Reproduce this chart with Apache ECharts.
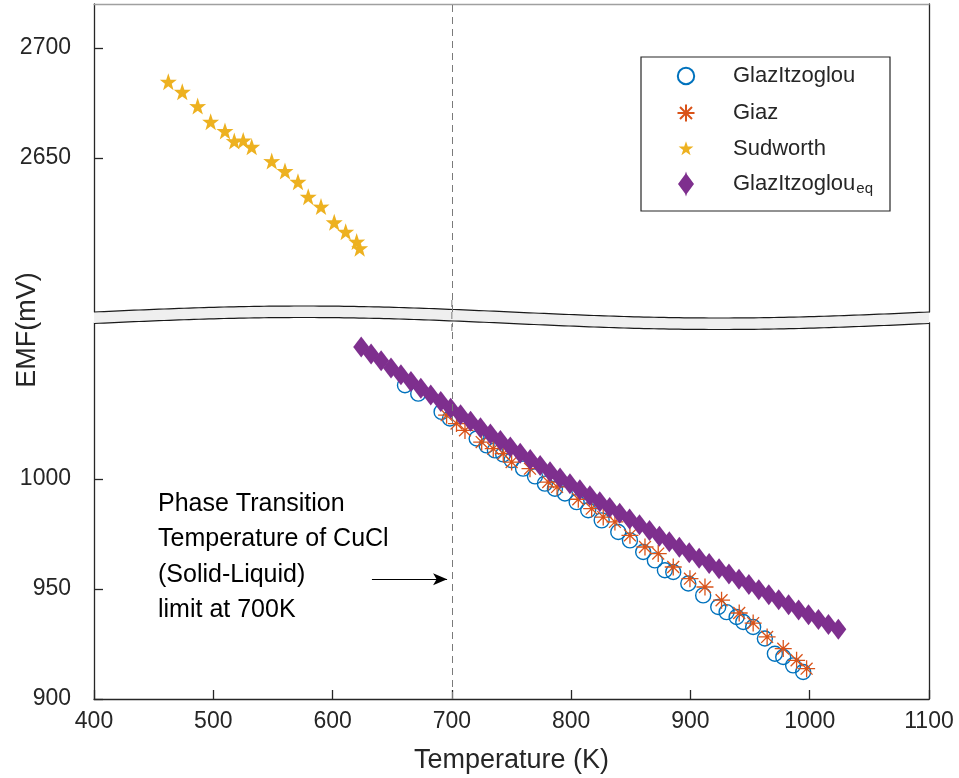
<!DOCTYPE html>
<html>
<head>
<meta charset="utf-8">
<script src="https://cdn.jsdelivr.net/npm/echarts@6/dist/echarts.min.js"></script>
<style>
  html, body { margin: 0; padding: 0; background: #fff; }
  #chart { width: 959px; height: 778px; }
</style>
</head>
<body>
<div id="chart"></div>
<script>
// ---------------- data ----------------
const xTicks = [400, 500, 600, 700, 800, 900, 1000, 1100];
const yTicksTop = [2650, 2700];
const yTicksBottom = [900, 950, 1000];

const sudworthT = [462.3, 474.0, 486.9, 497.8, 509.8, 517.6, 525.1, 532.2, 549.0, 560.1, 571.0, 579.6, 590.3, 601.4, 611.0, 620.2, 622.7];
const sudworthE = [2684.7, 2680.1, 2673.6, 2666.5, 2662.3, 2657.7, 2658.0, 2655.1, 2648.6, 2644.1, 2639.2, 2632.4, 2627.9, 2620.8, 2616.5, 2612.0, 2609.0];

const glazT = [660.7, 671.8, 691.4, 698.4, 720.8, 729.1, 736.1, 743.0, 750.1, 759.7, 769.7, 778.0, 786.4, 794.8, 804.6, 814.3, 825.6, 839.5, 849.3, 860.4, 870.2, 878.6, 885.6, 898.2, 910.7, 923.3, 930.3, 938.7, 944.3, 952.6, 962.4, 970.8, 977.8, 986.1, 994.5];
const glazE = [1042.6, 1038.8, 1030.5, 1027.5, 1018.4, 1015.3, 1013.0, 1011.2, 1008.5, 1004.7, 1001.2, 997.9, 995.6, 993.4, 989.5, 985.8, 981.2, 975.9, 972.1, 966.8, 963.0, 958.5, 957.7, 952.5, 947.1, 941.8, 939.5, 937.3, 935.0, 932.7, 927.5, 920.6, 919.1, 915.3, 912.3];

const giazT = [695.6, 703.9, 711.0, 725.0, 734.7, 743.1, 750.1, 765.5, 780.8, 788.2, 806.0, 817.2, 826.9, 836.7, 849.3, 861.9, 873.0, 885.6, 899.6, 912.2, 926.1, 940.9, 952.6, 964.3, 977.8, 989.0, 997.4];
const giazE = [1029.0, 1025.2, 1022.1, 1016.8, 1013.8, 1011.5, 1007.7, 1004.7, 998.6, 996.4, 990.8, 986.5, 982.7, 980.5, 974.4, 969.1, 966.1, 960.0, 954.7, 950.9, 944.9, 939.1, 934.5, 928.2, 922.9, 917.6, 913.8];

const eqT = [624.0, 632.3, 640.7, 649.0, 657.3, 665.7, 674.0, 682.3, 690.7, 699.0, 707.3, 715.7, 724.0, 732.3, 740.7, 749.0, 757.3, 765.7, 774.0, 782.3, 790.7, 799.0, 807.3, 815.7, 824.0, 832.3, 840.7, 849.0, 857.3, 865.7, 874.0, 882.3, 890.7, 899.0, 907.3, 915.7, 924.0, 932.3, 940.7, 949.0, 957.3, 965.7, 974.0, 982.3, 990.7, 999.0, 1007.3, 1015.7, 1024.0];
const eqE = [1060.0, 1056.8, 1053.7, 1050.5, 1047.4, 1044.3, 1041.3, 1038.2, 1035.2, 1032.2, 1029.2, 1026.2, 1023.3, 1020.4, 1017.5, 1014.6, 1011.7, 1008.9, 1006.1, 1003.3, 1000.5, 997.8, 995.1, 992.4, 989.7, 987.0, 984.4, 981.8, 979.2, 976.6, 974.0, 971.5, 969.0, 966.5, 964.0, 961.6, 959.2, 956.8, 954.4, 952.0, 949.7, 947.4, 945.1, 942.8, 940.5, 938.3, 936.1, 933.9, 931.7];

const transitionT = 700;
const arrowFrom = [633, 954.4];
const arrowTo = [696, 954.4];
const annotationLines = ['Phase Transition', 'Temperature of CuCl', '(Solid-Liquid)', 'limit at 700K'];
const seriesNames = ['GlazItzoglou', 'Giaz', 'Sudworth', 'GlazItzoglou_eq'];

// ---------------- layout ----------------
const FONT = '"Liberation Sans", Arial, Helvetica, sans-serif';
const TXT = '#262626';
const LEFT = 94, RIGHT_X = 929;
const TOP_TOP = 4, TOP_H = 308;             // 2580..2720
const BOT_H = 376.2, BOT_TOP = 699 - 376.2;  // 900..1071

const zip = (a, b) => a.map((v, i) => [v, b[i]]);
const plain = v => String(v);

const STAR = 'path://M50,0L61.8,35.1L97.6,34.5L69.1,56.7L79.4,90.5L50,70L20.6,90.5L30.9,56.7L2.4,34.5L38.2,35.1Z';
const ASTER = 'path://M10,0L10,20M0,10L20,10M3,3L17,17M3,17L17,3';
const DIAM = 'path://M7.5,0L15,9.5L7.5,19L0,9.5Z';

// legend icons padded to a fixed box so they keep their own size
const PAD = 'M-17,-17M17,17';
const ICON_CIRCLE = 'path://' + PAD + 'M8.2,0A8.2,8.2,0,1,1,-8.2,0A8.2,8.2,0,1,1,8.2,0Z';
const ICON_ASTER = 'path://' + PAD + 'M0,-8.5L0,8.5M-8.5,0L8.5,0M-6,-6L6,6M-6,6L6,-6';
const ICON_STAR = 'path://' + PAD + 'M0,-7.8L1.8,-2.5L7.4,-2.5L2.9,0.9L4.6,6.3L0,3L-4.6,6.3L-2.9,0.9L-7.4,-2.5L-1.8,-2.5Z';
const ICON_DIAM = 'path://' + PAD + 'M0,-12.5L1,-9.5L8,0L1,9.5L0,12.5L-1,9.5L-8,0L-1,-9.5Z';

// wavy break band (decoration)
function wave(x) { return 312 - 6 * Math.sin(2 * Math.PI * (x - LEFT) / (RIGHT_X - LEFT)); }
const bandTop = [], bandBot = [];
for (let x = LEFT; x <= RIGHT_X + 0.01; x += 5) {
  bandTop.push([x, wave(x)]);
  bandBot.push([x, wave(x) + 11.5]);
}
const bandPoly = bandTop.concat(bandBot.slice().reverse());

const dashStyle = { color: '#7a7a7a', width: 1, type: [7, 5] };

const chart = echarts.init(document.getElementById('chart'), null, { renderer: 'canvas' });

const axisLineDark = { show: true, lineStyle: { color: TXT, width: 1.3 } };

const option = {
  animation: false,
  backgroundColor: '#fff',
  textStyle: { fontFamily: FONT, color: TXT },
  grid: [
    { left: LEFT, right: 959 - RIGHT_X, top: TOP_TOP, height: TOP_H },
    { left: LEFT, right: 959 - RIGHT_X, top: BOT_TOP, height: BOT_H }
  ],
  xAxis: [
    { gridIndex: 0, type: 'value', min: 400, max: 1100, position: 'top',
      axisLine: { show: true, lineStyle: { color: '#a0a0a0', width: 1.3 } },
      axisTick: { show: false }, axisLabel: { show: false }, splitLine: { show: false } },
    { gridIndex: 1, type: 'value', min: 400, max: 1100, interval: 100, position: 'bottom',
      axisLine: axisLineDark,
      axisTick: { show: true, inside: true, length: 9, lineStyle: { color: TXT, width: 1.3 } },
      axisLabel: { fontSize: 23, color: TXT, margin: 11, fontFamily: FONT,
                   customValues: xTicks, formatter: plain },
      splitLine: { show: false },
      name: 'Temperature (K)', nameLocation: 'middle', nameGap: 48,
      nameTextStyle: { fontSize: 27, color: TXT, fontFamily: FONT } }
  ],
  yAxis: [
    { gridIndex: 0, type: 'value', min: 2580, max: 2720, position: 'left',
      axisLine: axisLineDark,
      axisTick: { show: true, inside: true, length: 9, customValues: yTicksTop, lineStyle: { color: TXT, width: 1.3 } },
      axisLabel: { fontSize: 23, color: TXT, margin: 23, customValues: yTicksTop, fontFamily: FONT, formatter: plain },
      splitLine: { show: false } },
    { gridIndex: 0, type: 'value', min: 2580, max: 2720, position: 'right',
      axisLine: axisLineDark, axisTick: { show: false }, axisLabel: { show: false }, splitLine: { show: false } },
    { gridIndex: 1, type: 'value', min: 900, max: 1071, position: 'left',
      axisLine: axisLineDark,
      axisTick: { show: true, inside: true, length: 9, customValues: yTicksBottom, lineStyle: { color: TXT, width: 1.3 } },
      axisLabel: { fontSize: 23, color: TXT, margin: 23, customValues: yTicksBottom, fontFamily: FONT, formatter: plain },
      splitLine: { show: false } },
    { gridIndex: 1, type: 'value', min: 900, max: 1071, position: 'right',
      axisLine: axisLineDark, axisTick: { show: false }, axisLabel: { show: false }, splitLine: { show: false } }
  ],
  legend: {
    orient: 'vertical', left: 668, top: 58,
    itemWidth: 34, itemHeight: 34, itemGap: 1,
    padding: 0,
    data: [
      { name: seriesNames[0], icon: ICON_CIRCLE },
      { name: seriesNames[1], icon: ICON_ASTER },
      { name: seriesNames[2], icon: ICON_STAR },
      { name: seriesNames[3], icon: ICON_DIAM }
    ],
    formatter: function (name) {
      return name === 'GlazItzoglou_eq' ? 'GlazItzoglou{sub|eq}' : name;
    },
    textStyle: {
      fontSize: 22, color: TXT, fontFamily: FONT, lineHeight: 24, padding: [0, 0, 0, 25],
      rich: { sub: { fontSize: 15, fontFamily: FONT, color: TXT, verticalAlign: 'bottom', lineHeight: 10, padding: [14, 0, 0, 1] } }
    }
  },
  series: [
    { name: seriesNames[0], type: 'scatter', xAxisIndex: 1, yAxisIndex: 2,
      data: zip(glazT, glazE), symbol: 'circle', symbolSize: 15, z: 2,
      itemStyle: { color: 'rgba(0,0,0,0)', borderColor: '#0072BD', borderWidth: 1.4, opacity: 1 },
      markLine: { silent: true, symbol: ['none', 'none'], label: { show: false },
        lineStyle: dashStyle, data: [{ xAxis: transitionT }] } },
    { name: seriesNames[1], type: 'scatter', xAxisIndex: 1, yAxisIndex: 2,
      data: zip(giazT, giazE), symbol: ASTER, symbolSize: 17, z: 3,
      itemStyle: { color: 'rgba(0,0,0,0)', borderColor: '#D95319', borderWidth: 1.3, opacity: 1 },
      markLine: { silent: true, symbol: ['none', 'arrow'], symbolSize: [9, 14], label: { show: false },
        lineStyle: { color: '#000', width: 1.2, type: 'solid' },
        data: [[{ coord: arrowFrom }, { coord: arrowTo }]] } },
    { name: seriesNames[2], type: 'scatter', xAxisIndex: 0, yAxisIndex: 0,
      data: zip(sudworthT, sudworthE), symbol: STAR, symbolSize: 17, z: 3,
      itemStyle: { color: '#EDB120', opacity: 1 },
      markLine: { silent: true, symbol: ['none', 'none'], label: { show: false },
        lineStyle: dashStyle, data: [{ xAxis: transitionT }] } },
    { name: seriesNames[3], type: 'scatter', xAxisIndex: 1, yAxisIndex: 2,
      data: zip(eqT, eqE), symbol: DIAM, symbolSize: [16, 21], z: 4,
      itemStyle: { color: '#7E2F8E', opacity: 1 } }
  ],
  graphic: [
    { type: 'polygon', z: 1, silent: true, shape: { points: bandPoly }, style: { fill: '#efefef', stroke: null } },
    { type: 'polyline', z: 1, silent: true, shape: { points: bandTop }, style: { stroke: '#1a1a1a', lineWidth: 1.2, fill: null } },
    { type: 'polyline', z: 1, silent: true, shape: { points: bandBot }, style: { stroke: '#1a1a1a', lineWidth: 1.2, fill: null } },
    { type: 'rect', z: 3, silent: true, shape: { x: 641, y: 57, width: 249, height: 154 },
      style: { fill: '#fff', stroke: '#262626', lineWidth: 1.2 } },
    { type: 'text', z: 5, silent: true, left: 158, top: 486,
      style: { text: annotationLines.join('\n'), fontSize: 25, lineHeight: 35.5, fill: '#000', fontFamily: FONT } },
    { type: 'text', z: 5, silent: true, x: 28, y: 330, rotation: Math.PI / 2,
      style: { text: 'EMF(mV)', fontSize: 27, fill: TXT, fontFamily: FONT, align: 'center', verticalAlign: 'middle' } }
  ]
};

chart.setOption(option);

// dashed transition line continued through the break band
const px = chart.convertToPixel({ xAxisIndex: 1 }, transitionT);
chart.setOption({
  graphic: option.graphic.concat([
    { type: 'line', z: 2, silent: true, shape: { x1: px, y1: 300, x2: px, y2: 332 },
      style: { stroke: '#7a7a7a', lineWidth: 1, lineDash: [7, 5] } }
  ])
});
</script>
</body>
</html>
